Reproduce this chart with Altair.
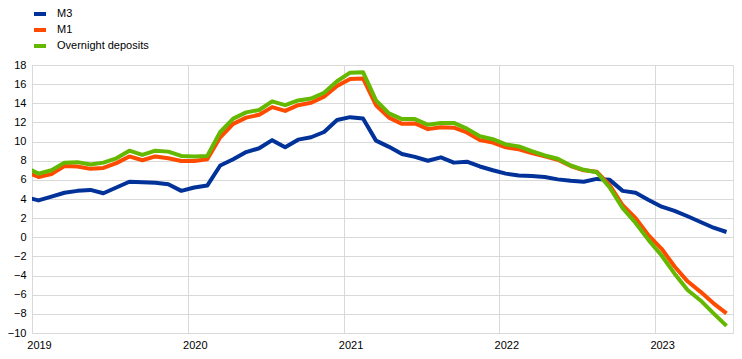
import altair as alt
import pandas as pd

months = [
    "2018-12",
    "2019-01", "2019-02", "2019-03", "2019-04", "2019-05", "2019-06",
    "2019-07", "2019-08", "2019-09", "2019-10", "2019-11", "2019-12",
    "2020-01", "2020-02", "2020-03", "2020-04", "2020-05", "2020-06",
    "2020-07", "2020-08", "2020-09", "2020-10", "2020-11", "2020-12",
    "2021-01", "2021-02", "2021-03", "2021-04", "2021-05", "2021-06",
    "2021-07", "2021-08", "2021-09", "2021-10", "2021-11", "2021-12",
    "2022-01", "2022-02", "2022-03", "2022-04", "2022-05", "2022-06",
    "2022-07", "2022-08", "2022-09", "2022-10", "2022-11", "2022-12",
    "2023-01", "2023-02", "2023-03", "2023-04", "2023-05", "2023-06",
]

m3 = [
    4.2,
    3.85, 4.25, 4.65, 4.85, 4.95, 4.6, 5.2, 5.8, 5.75, 5.7, 5.55, 4.85,
    5.2, 5.4, 7.5, 8.15, 8.9, 9.3, 10.15, 9.4, 10.2, 10.45, 11.0, 12.25,
    12.55, 12.4, 10.1, 9.45, 8.7, 8.4, 8.0, 8.35, 7.8, 7.9, 7.4, 7.0,
    6.65, 6.45, 6.4, 6.3, 6.05, 5.9, 5.8, 6.1, 6.0, 4.85, 4.65, 3.9,
    3.2, 2.75, 2.2, 1.6, 1.0, 0.55,
]

m1 = [
    6.85,
    6.3, 6.6, 7.45, 7.4, 7.15, 7.25, 7.75, 8.45, 8.05, 8.45, 8.25, 7.97,
    7.97, 8.15, 10.45, 11.85, 12.5, 12.8, 13.6, 13.2, 13.8, 14.05, 14.7, 15.8,
    16.55, 16.6, 13.8, 12.5, 11.85, 11.9, 11.3, 11.5, 11.45, 10.95, 10.15, 9.9,
    9.4, 9.2, 8.8, 8.45, 8.1, 7.45, 7.0, 6.85, 5.45, 3.35, 2.0, 0.2,
    -1.2, -3.05, -4.6, -5.7, -6.9, -7.95,
]

od = [
    7.3,
    6.65, 7.0, 7.8, 7.85, 7.6, 7.8, 8.25, 9.05, 8.6, 9.05, 8.95, 8.5,
    8.45, 8.5, 11.0, 12.4, 13.05, 13.3, 14.2, 13.8, 14.3, 14.5, 15.1, 16.3,
    17.2, 17.25, 14.3, 12.95, 12.35, 12.35, 11.75, 11.95, 11.95, 11.35, 10.55, 10.25,
    9.7, 9.5, 9.0, 8.55, 8.2, 7.5, 7.05, 6.8, 5.2, 3.05, 1.5, -0.3,
    -1.9, -3.8, -5.5, -6.6, -7.95, -9.25,
]

series_names = ["M3", "M1", "Overnight deposits"]
series_colors = ["#003299", "#ff4b00", "#65b800"]
year_ticks = [0, 12, 24, 36, 48]
y_ticks = list(range(-10, 19, 2))


def month_pos(s):
    y, m = s.split("-")
    return (int(y) - 2019) * 12 + (int(m) - 1) + 0.5


rows = []
for name, vals in zip(series_names, [m3, m1, od]):
    for mo, v in zip(months, vals):
        rows.append({"m": month_pos(mo), "value": v, "series": name})
df = pd.DataFrame(rows)

FONT = "Liberation Sans"

chart = (
    alt.Chart(df)
    .mark_line(strokeWidth=4, clip=True, strokeJoin="round", strokeCap="butt")
    .encode(
        x=alt.X(
            "m:Q",
            scale=alt.Scale(domain=[0, 54], nice=False, zero=False),
            axis=alt.Axis(
                values=year_ticks,
                labelExpr="'' + (2019 + datum.value / 12)",
                labelOffset=7,
                labelFlush=False,
                ticks=False,
                tickSize=0,
                domain=False,
                grid=True,
                gridColor="#d9d9d9",
                gridWidth=1,
                labelPadding=6,
                labelFontSize=11,
                labelFont=FONT,
                labelColor="#000000",
                title=None,
            ),
        ),
        y=alt.Y(
            "value:Q",
            scale=alt.Scale(domain=[-10, 18], nice=False, zero=False),
            axis=alt.Axis(
                values=y_ticks,
                ticks=False,
                tickSize=0,
                domain=False,
                grid=True,
                gridColor="#d9d9d9",
                gridWidth=1,
                labelPadding=6,
                labelFontSize=11,
                labelFont=FONT,
                labelColor="#000000",
                title=None,
            ),
        ),
        color=alt.Color(
            "series:N",
            scale=alt.Scale(domain=series_names, range=series_colors),
            sort=series_names,
            legend=alt.Legend(
                title=None,
                orient="none",
                legendX=0,
                legendY=-59,
                symbolType="stroke",
                symbolSize=144,
                symbolStrokeWidth=4,
                labelFontSize=11,
                labelFont=FONT,
                labelColor="#000000",
                labelOffset=9,
                rowPadding=0,
                padding=0,
                direction="vertical",
            ),
        ),
    )
    .properties(
        width=701,
        height=268,
        autosize=alt.AutoSizeParams(type="none"),
        padding={"left": 24, "top": 57, "right": 1, "bottom": 18},
    )
    .configure_view(stroke="#d9d9d9", strokeWidth=1)
    .configure(background="white")
)

chart.save("out.html", embed_options={"renderer": "svg", "actions": False})
